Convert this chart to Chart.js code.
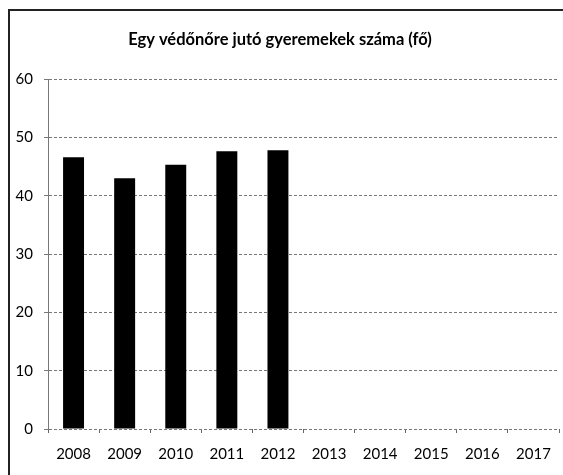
<!DOCTYPE html>
<html>
<head>
<meta charset="utf-8">
<script src="https://cdn.jsdelivr.net/npm/chart.js@4"></script>
<style>
  html, body { margin: 0; padding: 0; background: #fff; overflow: hidden; }
  canvas { display: block; }
</style>
</head>
<body>
<canvas id="chart" width="563" height="475"></canvas>
<script>
// data
const years = ["2008", "2009", "2010", "2011", "2012", "2013", "2014", "2015", "2016", "2017"];
const childrenPerNurse = [46.6, 43.0, 45.3, 47.6, 47.8, null, null, null, null, null];
const yTicks = [0, 10, 20, 30, 40, 50, 60];

const fontFamily = "Lato, 'Liberation Sans', Arial, sans-serif";

// outer frame of the scanned chart (left and top edges only)
const framePlugin = {
  id: "frame",
  afterDraw(chart) {
    const c = chart.ctx;
    c.save();
    c.fillStyle = "#fff";
    c.fillRect(chart.width - 2, 11, 2, chart.height - 11);
    c.strokeStyle = "#222";
    c.lineWidth = 2;
    c.beginPath();
    c.moveTo(9, chart.height);
    c.lineTo(9, 10);
    c.lineTo(chart.width, 10);
    c.stroke();
    c.restore();
  },
};

const ctx = document.getElementById("chart").getContext("2d");

new Chart(ctx, {
  type: "bar",
  data: {
    labels: years,
    datasets: [
      {
        label: "Egy védőnőre jutó gyeremekek száma (fő)",
        data: childrenPerNurse,
        backgroundColor: "#000",
        borderWidth: 0,
        barPercentage: 0.41,
        categoryPercentage: 1,
      },
    ],
  },
  plugins: [framePlugin],
  options: {
    responsive: false,
    animation: false,
    layout: { padding: { top: 30, right: 3, bottom: 0, left: 0 } },
    plugins: {
      legend: { display: false },
      tooltip: { enabled: false },
      title: {
        display: true,
        text: "Egy védőnőre jutó gyeremekek száma (fő)",
        color: "#000",
        font: { family: fontFamily, size: 16.5, weight: "bold", lineHeight: 1.2 },
        padding: { top: 0, bottom: 29.2 },
      },
    },
    scales: {
      x: {
        offset: true,
        afterFit: (scale) => {
          scale.height = 46;
        },
        grid: { display: true, drawOnChartArea: false, offset: true, tickLength: 4, color: "#666" },
        border: { display: false },
        ticks: { color: "#000", padding: 12, font: { family: fontFamily, size: 15, lineHeight: 1.2 } },
      },
      y: {
        min: 0,
        max: 60,
        afterBuildTicks: (scale) => {
          scale.ticks = yTicks.map((v) => ({ value: v }));
        },
        afterFit: (scale) => {
          scale.width = 48;
        },
        grid: { color: "#777", lineWidth: 1, tickLength: 4 },
        border: { display: true, color: "#777", dash: [3, 2] },
        ticks: { color: "#000", padding: 11, font: { family: fontFamily, size: 15 } },
      },
    },
  },
});
</script>
</body>
</html>
